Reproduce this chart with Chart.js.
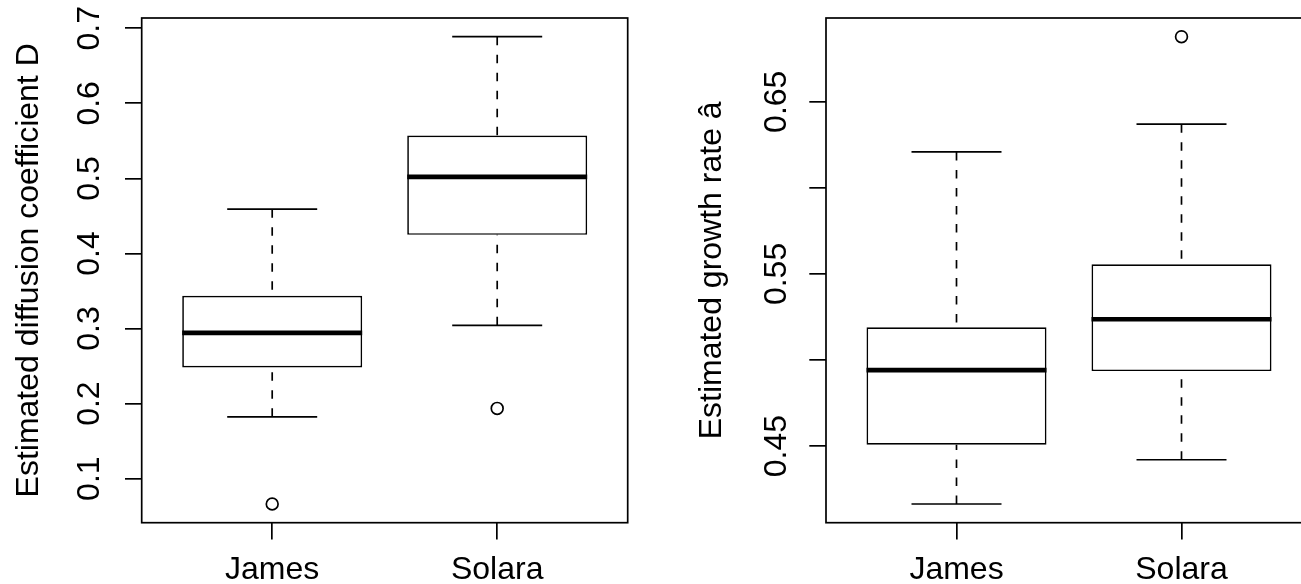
<!DOCTYPE html>
<html>
<head>
<meta charset="utf-8">
<script src="https://cdn.jsdelivr.net/npm/chart.js@4.4.1/dist/chart.umd.min.js"></script>
<style>
  html, body { margin: 0; padding: 0; background: #fff; overflow: hidden; width: 1301px; height: 584px; }
  #wrap { position: relative; width: 1301px; height: 584px; overflow: hidden; }
  canvas { position: absolute; top: 0; }
  #c1 { left: 0; }
  #c2 { left: 650px; }
</style>
</head>
<body>
<div id="wrap">
  <canvas id="c1" width="650" height="584"></canvas>
  <canvas id="c2" width="700" height="584"></canvas>
</div>
<script>
// ---------- data ----------
const categories = ['James', 'Solara'];

// Left panel: estimated diffusion coefficient D
const dWhiskerLow  = [0.1824, 0.3042];
const dQ1          = [0.2482, 0.4248];
const dMedian      = [0.2943, 0.5021];
const dQ3          = [0.3436, 0.5570];
const dWhiskerHigh = [0.4590, 0.6888];
const dOutliers    = [[0.0662], [0.1936]];
const dTicks       = [0.1, 0.2, 0.3, 0.4, 0.5, 0.6, 0.7];
const dTickLabels  = ['0.1', '0.2', '0.3', '0.4', '0.5', '0.6', '0.7'];
const dTitle       = 'Estimated diffusion coefficient D';

// Right panel: estimated growth rate
const gWhiskerLow  = [0.4164, 0.4421];
const gQ1          = [0.4508, 0.4936];
const gMedian      = [0.4942, 0.5237];
const gQ3          = [0.5190, 0.5556];
const gWhiskerHigh = [0.6209, 0.6370];
const gOutliers    = [[], [0.6878]];
const gTicks       = [0.45, 0.50, 0.55, 0.60, 0.65];
const gTickLabels  = ['0.45', '', '0.55', '', '0.65'];
const gTitle       = 'Estimated growth rate \u00e2';

// ---------- styling constants ----------
const FONT = '"Liberation Sans", Arial, Helvetica, sans-serif';
const FS = 32;
const LW = 1.7;
const BOX_HALF = 0.4;   // half box width in category units
const CAP_HALF = 0.2;   // half staple width
const TICK_LEN = 16.7;

const framePlugin = {
  id: 'frame',
  afterDatasetsDraw(chart) {
    const { ctx, chartArea: a } = chart;
    ctx.save();
    ctx.strokeStyle = '#000';
    ctx.lineWidth = LW;
    ctx.strokeRect(a.left, a.top, a.right - a.left, a.bottom - a.top);
    ctx.restore();
  }
};

function makeBoxChart(canvasId, s) {
  const n = categories.length;
  const xs = categories.map((_, i) => i + 1);
  const all = [].concat(s.lo, s.hi, ...s.out);
  const dmin = Math.min(...all), dmax = Math.max(...all);
  const ext = (dmax - dmin) * 0.04;
  const xExt = n * 0.04;

  const boxes = xs.map((x, i) => ({ x, y: [s.q1[i], s.q3[i]] }));
  const whiskers = [];
  const caps = [];
  const medians = [];
  xs.forEach((x, i) => {
    whiskers.push({ x, y: s.hi[i] }, { x, y: s.q3[i] }, { x, y: null },
                  { x, y: s.lo[i] }, { x, y: s.q1[i] }, { x, y: null });
    caps.push({ x: x - CAP_HALF, y: s.hi[i] }, { x: x + CAP_HALF, y: s.hi[i] }, { x, y: null },
              { x: x - CAP_HALF, y: s.lo[i] }, { x: x + CAP_HALF, y: s.lo[i] }, { x, y: null });
    medians.push({ x: x - BOX_HALF, y: s.med[i] }, { x: x + BOX_HALF, y: s.med[i] }, { x, y: null });
  });
  const outliers = [];
  xs.forEach((x, i) => s.out[i].forEach(v => outliers.push({ x, y: v })));

  const lineBase = { type: 'line', pointRadius: 0, borderColor: '#000', spanGaps: false, tension: 0, fill: false };

  return new Chart(document.getElementById(canvasId), {
    type: 'scatter',
    data: {
      datasets: [
        Object.assign({}, lineBase, { label: 'median', data: medians, borderWidth: 4.7, borderCapStyle: 'butt', order: 1 }),
        { type: 'scatter', label: 'outliers', data: outliers, pointStyle: 'circle', pointRadius: 5.9,
          pointBorderWidth: LW, pointBorderColor: '#000', pointBackgroundColor: 'rgba(255,255,255,0)', order: 1 },
        Object.assign({}, lineBase, { label: 'staples', data: caps, borderWidth: LW, order: 2 }),
        Object.assign({}, lineBase, { label: 'whiskers', data: whiskers, borderWidth: LW, borderDash: [8.5, 9.5], order: 3 }),
        { type: 'bar', label: 'boxes', data: boxes, backgroundColor: '#fff', borderColor: '#000',
          borderWidth: LW, borderSkipped: false, inflateAmount: 0, categoryPercentage: 1, barPercentage: BOX_HALF * 2, order: 4 }
      ]
    },
    options: {
      responsive: false,
      devicePixelRatio: 1,
      animation: false,
      events: [],
      layout: { padding: { left: 0, top: 18, right: s.padRight, bottom: 0 } },
      plugins: { legend: { display: false }, tooltip: { enabled: false }, title: { display: false } },
      scales: {
        x: {
          type: 'linear',
          offset: false,
          min: 1 - 0.5 - xExt,
          max: n + 0.5 + xExt,
          grid: { display: true, offset: false, drawOnChartArea: false, drawTicks: true,
                  tickLength: TICK_LEN, color: '#000', lineWidth: LW },
          border: { display: false },
          ticks: {
            autoSkip: false, maxRotation: 0, minRotation: 0, padding: s.xPad, color: '#000',
            font: { family: FONT, size: FS },
            callback: (v, i) => categories[i]
          },
          afterBuildTicks: (sc) => { sc.ticks = xs.map(v => ({ value: v })); },
          afterFit: (sc) => { sc.height = 584 - 522.7; sc.paddingLeft = 0; sc.paddingRight = 0; sc.paddingTop = 0; sc.paddingBottom = 0; }
        },
        y: {
          type: 'linear',
          min: dmin - ext,
          max: dmax + ext,
          grid: { display: true, drawOnChartArea: false, drawTicks: true,
                  tickLength: TICK_LEN, color: '#000', lineWidth: LW },
          border: { display: false },
          ticks: {
            autoSkip: false, minRotation: 90, maxRotation: 90, crossAlign: 'center',
            padding: s.yPad, color: '#000', font: { family: FONT, size: FS },
            callback: (v, i) => s.tickLabels[i]
          },
          title: { display: true, text: s.title, color: '#000', font: { family: FONT, size: FS },
                   padding: { top: s.titlePad, bottom: 0 } },
          afterBuildTicks: (sc) => { sc.ticks = s.ticks.map(v => ({ value: v })); },
          afterFit: (sc) => { sc.width = s.axisWidth; sc.paddingLeft = 0; sc.paddingRight = 0; sc.paddingTop = 0; sc.paddingBottom = 0; }
        }
      }
    },
    plugins: [framePlugin]
  });
}

makeBoxChart('c1', {
  lo: dWhiskerLow, q1: dQ1, med: dMedian, q3: dQ3, hi: dWhiskerHigh, out: dOutliers,
  ticks: dTicks, tickLabels: dTickLabels, title: dTitle,
  axisWidth: 141.7, padRight: 650 - 627.7, yPad: 12.8, titlePad: 9.7, xPad: 11.6
});

makeBoxChart('c2', {
  lo: gWhiskerLow, q1: gQ1, med: gMedian, q3: gQ3, hi: gWhiskerHigh, out: gOutliers,
  ticks: gTicks, tickLabels: gTickLabels, title: gTitle,
  axisWidth: 176, padRight: 700 - 662, yPad: 1.2, titlePad: 43.2, xPad: 11.6
});
</script>
</body>
</html>
